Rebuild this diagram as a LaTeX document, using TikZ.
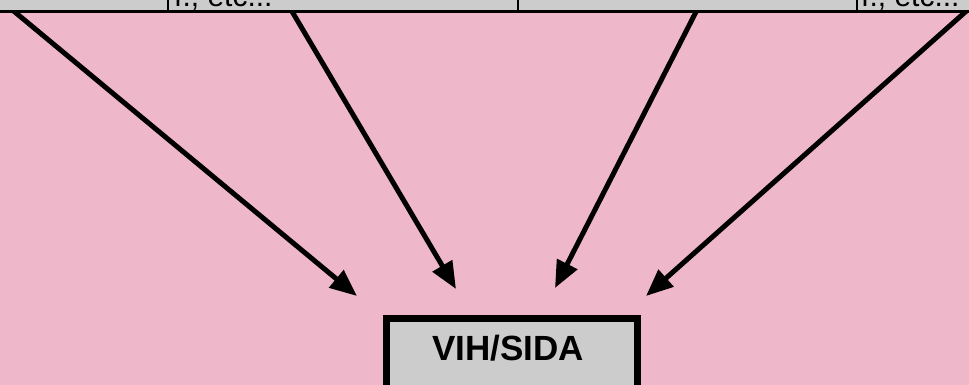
\documentclass[tikz,border=0pt]{standalone}
\usepackage{fontspec}
\setmainfont{Liberation Sans}
\usetikzlibrary{arrows.meta}
\definecolor{bgpink}{RGB}{239,184,202}
\definecolor{boxgrey}{RGB}{204,204,204}
\tikzset{
  cause/.style={draw=black, line width=2.4pt, fill=boxgrey, inner sep=0pt, anchor=north west},
  causetext/.style={font=\fontsize{30}{30}\selectfont, anchor=base west, inner sep=0pt},
  link/.style={line width=5pt, -{Triangle[length=27pt,width=22pt]}},
  mainbox/.style={draw=black, line width=6.5pt, fill=boxgrey}
}
\begin{document}
\begin{tikzpicture}[x=1pt,y=-1pt]
  \useasboundingbox (0,0) rectangle (969,385);
  \clip (0,0) rectangle (969,385);
  \fill[bgpink] (0,0) rectangle (969,385);

  % arrow start and end points
  \coordinate (s1) at (10,8);
  \coordinate (s2) at (290,8);
  \coordinate (s3) at (698,8);
  \coordinate (s4) at (972,6);
  \coordinate (t1) at (357,296);
  \coordinate (t2) at (456,289);
  \coordinate (t3) at (555,288);
  \coordinate (t4) at (646,296);

  \draw[link] (s1) -- (t1);
  \draw[link] (s2) -- (t2);
  \draw[link] (s3) -- (t3);
  \draw[link] (s4) -- (t4);

  % row of cause boxes along the top edge
  \node[cause, minimum width=169pt, minimum height=59.5pt] (c1) at (-2,-49) {};
  \node[cause, minimum width=350pt, minimum height=59.5pt] (c2) at (167,-49) {};
  \node[cause, minimum width=339pt, minimum height=59.5pt] (c3) at (517,-49) {};
  \node[cause, minimum width=120pt, minimum height=59.5pt] (c4) at (856,-49) {};
  \node[causetext] (l2) at (174,6.5) {f., etc...};
  \node[causetext] (l4) at (861,6.5) {f., etc...};

  % central box
  \node[mainbox, minimum width=251pt, minimum height=110pt, anchor=north west] (vih) at (383.25,315.25) {};
  \node[font=\bfseries\fontsize{35}{35}\selectfont, anchor=base, inner sep=0pt] (vihtext) at (508,360) {VIH/SIDA};
\end{tikzpicture}
\end{document}
